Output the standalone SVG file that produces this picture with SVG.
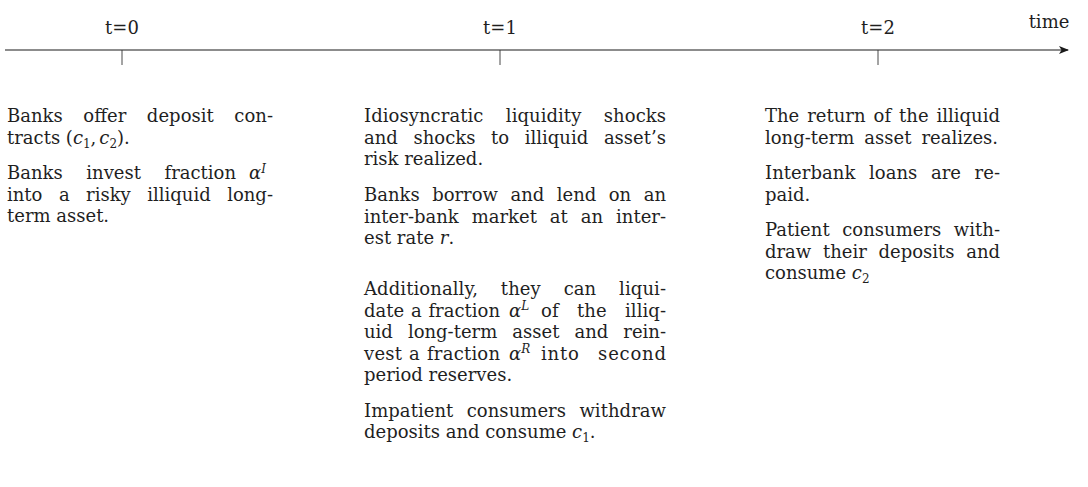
<svg xmlns="http://www.w3.org/2000/svg" width="1088" height="487" viewBox="0 0 1088 487">
<style>
text{font-family:"DejaVu Serif","Liberation Serif",serif;font-size:18px;fill:#1f1f1f}
.m{font-style:italic}
.s{font-size:12px}
.axis{stroke:#1a1a1a;stroke-width:1.2;fill:none}
.tick{stroke:#333;stroke-width:0.9}
</style>
<defs>
<marker id="ah" viewBox="0 0 10 8" refX="9" refY="4" markerWidth="10" markerHeight="8" markerUnits="userSpaceOnUse" orient="auto">
<path d="M0,0 L10,4 L0,8 L2.5,4 Z" fill="#1a1a1a"/>
</marker>
</defs>
<g id="connectors">
<line class="axis" x1="5" y1="50" x2="1068" y2="50" marker-end="url(#ah)"/>
</g>
<g id="axis-labels">
<line class="tick" x1="122" y1="50" x2="122" y2="65"/>
<line class="tick" x1="500" y1="50" x2="500" y2="65"/>
<line class="tick" x1="878" y1="50" x2="878" y2="65"/>
<text x="122" y="34" text-anchor="middle">t=0</text>
<text x="500" y="34" text-anchor="middle">t=1</text>
<text x="878" y="34" text-anchor="middle">t=2</text>
<text x="1049" y="28" text-anchor="middle">time</text>
</g>
<g id="t0">
<text x="7" y="122" word-spacing="14.8" textLength="266" lengthAdjust="spacing">Banks offer deposit con-</text>
<text x="7" y="143.5">tracts (<tspan class="m">c</tspan><tspan class="s" dy="4">1</tspan><tspan dy="-4">,</tspan><tspan class="m" dx="3">c</tspan><tspan class="s" dy="4">2</tspan><tspan dy="-4">).</tspan></text>
<text x="7" y="179" word-spacing="17.9" textLength="229" lengthAdjust="spacing">Banks invest fraction</text>
<text x="249" y="179" class="m">α<tspan class="s" dy="-6.5">I</tspan></text>
<text x="7" y="200.5" word-spacing="10.7" textLength="266" lengthAdjust="spacing">into a risky illiquid long-</text>
<text x="7" y="222">term asset.</text>
</g>
<g id="t1">
<text x="364" y="122" word-spacing="16.7" textLength="302" lengthAdjust="spacing">Idiosyncratic liquidity shocks</text>
<text x="364" y="143.5" word-spacing="9.9" textLength="302" lengthAdjust="spacing">and shocks to illiquid asset’s</text>
<text x="364" y="165">risk realized.</text>
<text x="364" y="201" word-spacing="6.8" textLength="302" lengthAdjust="spacing">Banks borrow and lend on an</text>
<text x="364" y="222.5" word-spacing="7.2" textLength="302" lengthAdjust="spacing">inter-bank market at an inter-</text>
<text x="364" y="244">est rate <tspan class="m">r</tspan>.</text>
<text x="364" y="295" word-spacing="17" textLength="302" lengthAdjust="spacing">Additionally, they can liqui-</text>
<text x="364" y="316.5" word-spacing="1" textLength="136" lengthAdjust="spacing">date a fraction</text>
<text x="509" y="316.5" class="m">α<tspan class="s" dy="-6.5">L</tspan></text>
<text x="541" y="316.5" word-spacing="12.5" textLength="125" lengthAdjust="spacing">of the illiq-</text>
<text x="364" y="338" word-spacing="9.3" textLength="302" lengthAdjust="spacing">uid long-term asset and rein-</text>
<text x="364" y="359.5" word-spacing="1" textLength="136" lengthAdjust="spacing">vest a fraction</text>
<text x="509" y="359.5" class="m">α<tspan class="s" dy="-6.5">R</tspan></text>
<text x="541" y="359.5" word-spacing="12" textLength="125" lengthAdjust="spacing">into second</text>
<text x="364" y="381">period reserves.</text>
<text x="364" y="416.5" word-spacing="7.6" textLength="302" lengthAdjust="spacing">Impatient consumers withdraw</text>
<text x="364" y="438">deposits and consume <tspan class="m">c</tspan><tspan class="s" dy="4">1</tspan><tspan dy="-4">.</tspan></text>
</g>
<g id="t2">
<text x="765" y="122" word-spacing="2.3" textLength="235" lengthAdjust="spacing">The return of the illiquid</text>
<text x="765" y="143.5" word-spacing="4.3" textLength="233" lengthAdjust="spacing">long-term asset realizes.</text>
<text x="765" y="179" word-spacing="7.7" textLength="235" lengthAdjust="spacing">Interbank loans are re-</text>
<text x="765" y="200.5">paid.</text>
<text x="765" y="236" word-spacing="6.8" textLength="235" lengthAdjust="spacing">Patient consumers with-</text>
<text x="765" y="257.5" word-spacing="6" textLength="235" lengthAdjust="spacing">draw their deposits and</text>
<text x="765" y="279">consume <tspan class="m">c</tspan><tspan class="s" dy="4">2</tspan></text>
</g>
</svg>
